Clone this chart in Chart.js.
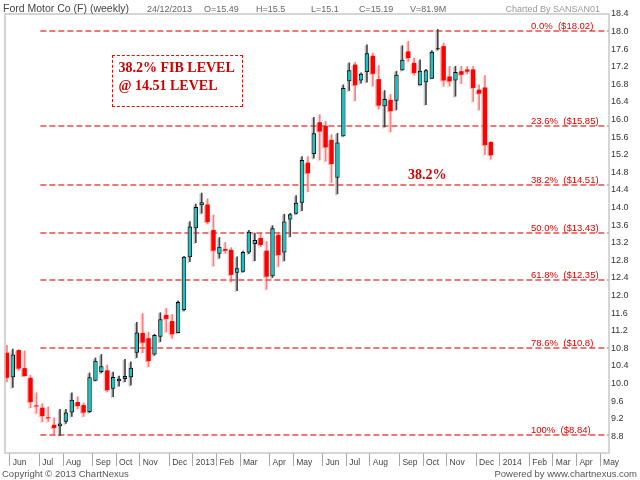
<!DOCTYPE html>
<html>
<head>
<meta charset="utf-8">
<title>Ford Motor Co (F) (weekly)</title>
<script src="https://cdn.jsdelivr.net/npm/chart.js@4.4.0/dist/chart.umd.min.js"></script>
<style>
    body { margin: 0; background: #fff; }
    #wrap { position: relative; width: 640px; height: 480px; overflow: hidden; font-family: "Liberation Sans", Arial, sans-serif; }
    #chart { position: absolute; left: 0; top: 0; }
    .txt { position: absolute; white-space: nowrap; line-height: 12px; }
    .title { left: 3px; top: 2px; font-size: 10.5px; color: #444; }
    .stat { top: 3px; font-size: 9px; color: #666; }
    .by { right: 40px; top: 3px; font-size: 9px; color: #999; }
    .foot { top: 468px; font-size: 9.5px; color: #555; }
    .note { position: absolute; font-family: "Liberation Serif", "Times New Roman", serif; font-weight: bold; font-size: 14px; line-height: 18px; color: #cc0000; white-space: nowrap; }
    .box { left: 112px; top: 55px; width: 131px; height: 52px; box-sizing: border-box; border: 1.5px dashed #dd1111; padding: 2.5px 0 0 5.5px; }
</style>
</head>
<body>
<div id="wrap">
    <canvas id="chart" width="640" height="480"></canvas>
    <div class="txt title">Ford Motor Co (F) (weekly)</div>
    <div class="txt stat" style="left:147px">24/12/2013</div>
    <div class="txt stat" style="left:204px">O=15.49</div>
    <div class="txt stat" style="left:256px">H=15.5</div>
    <div class="txt stat" style="left:311px">L=15.1</div>
    <div class="txt stat" style="left:359px">C=15.19</div>
    <div class="txt stat" style="left:410px">V=81.9M</div>
    <div class="txt by">Charted By SANSAN01</div>
    <div class="txt foot" style="left:2px">Copyright © 2013 ChartNexus</div>
    <div class="txt foot" style="right:3px">Powered by www.chartnexus.com</div>
    <div class="note box">38.2% FIB LEVEL<br>@ 14.51 LEVEL</div>
    <div class="note" style="left:408px; top:166px">38.2%</div>
</div>
<script>
// Weekly candles, Friday dated, first bar = week of 25/05/2012
const openP  = [10.70,10.14,10.76,10.35,10.13, 9.50, 9.45, 9.23, 9.06, 9.03,
                 9.13, 9.34, 9.58, 9.51, 9.35,10.06,10.26,10.30, 9.88,10.05,
                10.10,10.14,10.70,11.15,11.03,10.66,11.06,11.56,11.42,11.15,
                11.67,12.87,13.53,14.05,14.07,13.49,12.95,13.06,13.04,12.52,
                12.54,12.98,13.17,13.31,13.02,12.44,13.38,12.98,13.73,13.86,
                14.11,15.02,15.22,15.94,15.86,15.54,14.68,15.62,16.87,17.25,
                16.89,17.08,17.45,16.92,16.30,16.45,16.43,17.12,17.55,17.29,
                16.78,16.85,16.93,17.60,17.67,16.98,16.89,17.10,17.14,17.14,
                16.68,16.73,15.49];
const highP  = [10.87,10.78,10.77,10.74,10.19, 9.79, 9.54, 9.47, 9.22, 9.41,
                 9.41, 9.79, 9.70, 9.56,10.24,10.58,10.66,10.42,10.26,10.17,
                10.55,10.49,11.39,11.59,11.17,11.12,11.61,11.71,11.57,11.88,
                12.89,13.68,14.08,14.33,14.20,13.83,13.32,13.21,13.09,12.88,
                13.01,13.48,13.42,13.42,13.23,13.59,13.43,13.85,13.87,14.27,
                15.16,15.16,16.05,16.11,15.96,15.66,15.69,16.79,17.29,17.30,
                17.06,17.70,17.51,17.23,16.66,16.57,17.10,17.68,17.78,17.40,
                17.36,17.14,17.57,18.05,17.74,17.21,17.21,17.21,17.21,17.21,
                16.79,17.00,15.50];
const lowP   = [10.04, 9.91,10.30,10.17, 9.45, 9.32, 9.13, 9.13, 8.82, 8.82,
                 9.09, 9.25, 9.43, 9.25, 9.34,10.06,10.24, 9.81, 9.70, 9.94,
                10.04, 9.96,10.59,10.70,10.38,10.64,10.95,11.17,11.03,11.15,
                11.65,12.77,13.20,13.87,13.63,12.67,12.85,12.96,12.31,12.11,
                12.53,12.95,12.79,13.11,12.14,12.41,12.66,12.79,13.34,13.85,
                13.93,14.36,15.12,15.08,15.05,14.57,14.31,15.62,16.66,16.43,
                16.83,16.85,16.76,16.24,15.83,15.72,16.22,17.12,17.32,17.01,
                16.78,16.34,16.93,17.58,16.76,16.76,16.53,16.82,17.04,16.41,
                16.22,15.20,15.10];
const closeP = [10.13,10.66,10.34,10.17, 9.58, 9.48, 9.26, 9.21, 8.99, 9.09,
                 9.34, 9.63, 9.49, 9.34,10.14,10.52,10.39, 9.85,10.15,10.11,
                10.17,10.36,11.16,10.93,10.51,11.10,11.46,11.47,11.12,11.85,
                12.88,13.57,14.01,14.12,13.67,13.02,13.11,13.02,12.47,12.62,
                12.99,13.45,13.26,13.15,12.43,13.53,12.92,13.68,13.85,14.11,
                15.08,14.78,15.69,15.73,15.37,14.99,15.48,16.72,17.12,16.78,
                17.04,17.51,17.04,16.32,16.47,16.19,17.02,17.36,17.40,17.06,
                17.11,17.12,17.54,17.61,16.89,16.87,17.08,17.02,17.09,16.72,
                16.59,15.42,15.19];

// x axis: one slot per week, month tick at the first week of each month
const weekCount = 102;
const monthStart = [1, 6, 10, 15, 19, 23, 28, 32, 36, 40, 45, 49,
                    54, 58, 62, 67, 71, 75, 80, 84, 89, 93, 97, 101];
const monthTicks = ['Jun', 'Jul', 'Aug', 'Sep', 'Oct', 'Nov', 'Dec', '2013', 'Feb', 'Mar', 'Apr', 'May',
                    'Jun', 'Jul', 'Aug', 'Sep', 'Oct', 'Nov', 'Dec', '2014', 'Feb', 'Mar', 'Apr', 'May'];

// y axis
const yMin = 8.42;
const yMax = 18.4;
const yTicks = [8.8, 9.2, 9.6, 10.0, 10.4, 10.8, 11.2, 11.6, 12.0, 12.4, 12.8, 13.2, 13.6,
                14.0, 14.4, 14.8, 15.2, 15.6, 16.0, 16.4, 16.8, 17.2, 17.6, 18.0, 18.4];

// Fibonacci retracement levels
const fibPct    = ['0.0%', '23.6%', '38.2%', '50.0%', '61.8%', '78.6%', '100%'];
const fibLevels = [18.02, 15.85, 14.51, 13.43, 12.35, 10.8, 8.84];
const fibPrice  = ['18.02', '15.85', '14.51', '13.43', '12.35', '10.8', '8.84'];
const fibStartWeek = 6;

const UP = '#12c6c6';
const DOWN = '#ff0000';

function weekLabels() {
    const labels = [];
    const d = new Date(2012, 4, 25);
    for (let i = 0; i < weekCount; i++) {
        labels.push(d.getDate() + '/' + (d.getMonth() + 1) + '/' + d.getFullYear());
        d.setDate(d.getDate() + 7);
    }
    return labels;
}

function isUp(i) { return closeP[i] >= openP[i]; }

// candles split by direction so each side gets its own shadow tint
function bodies(up) {
    return openP.map((o, i) => isUp(i) === up ? [o, closeP[i]] : null);
}
function wicks(up) {
    return lowP.map((l, i) => isUp(i) === up ? [l, highP[i]] : null);
}

const shadowPlugin = {
    id: 'candleShadow',
    beforeDatasetDraw(chart, args) {
        const ds = chart.data.datasets[args.index];
        if (!ds.shadow) return;
        const ctx = chart.ctx;
        ctx.save();
        ctx.shadowColor = ds.shadow;
        ctx.shadowOffsetX = -1.5;
        ctx.shadowOffsetY = 1;
        ctx.shadowBlur = 0;
    },
    afterDatasetDraw(chart, args) {
        const ds = chart.data.datasets[args.index];
        if (ds.shadow) chart.ctx.restore();
    }
};

const fibPlugin = {
    id: 'fib',
    beforeDatasetsDraw(chart) {
        const ctx = chart.ctx;
        const x = chart.scales.x, y = chart.scales.y;
        const x0 = x.getPixelForValue(fibStartWeek) - 2;
        const x1 = chart.chartArea.right + 3;
        ctx.save();
        ctx.strokeStyle = 'rgba(222,30,30,0.8)';
        ctx.lineWidth = 1.5;
        ctx.setLineDash([6, 3]);
        fibLevels.forEach(function(level) {
            const py = Math.round(y.getPixelForValue(level));
            ctx.beginPath();
            ctx.moveTo(x0, py);
            ctx.lineTo(x1, py);
            ctx.stroke();
        });
        ctx.setLineDash([]);
        ctx.fillStyle = '#e00000';
        ctx.font = '9.5px "Liberation Sans", Arial, sans-serif';
        ctx.textAlign = 'left';
        ctx.textBaseline = 'alphabetic';
        fibLevels.forEach(function(level, i) {
            const py = Math.round(y.getPixelForValue(level));
            ctx.fillText(fibPct[i] + '  ($' + fibPrice[i] + ')', 531, py - 2);
        });
        ctx.restore();
    },
    afterDraw(chart) {
        const ctx = chart.ctx;
        const a = chart.chartArea;
        ctx.save();
        ctx.strokeStyle = '#c8c8c8';
        ctx.lineWidth = 1.5;
        ctx.strokeRect(a.left + 1, a.top, a.right - a.left + 2, a.bottom - a.top);
        ctx.restore();
    }
};

new Chart(document.getElementById('chart'), {
    type: 'bar',
    data: {
        labels: weekLabels(),
        datasets: [{
            label: 'Up body',
            data: bodies(true),
            backgroundColor: UP,
            borderColor: '#000',
            borderWidth: 1,
            borderSkipped: false,
            barPercentage: 0.74,
            categoryPercentage: 1,
            minBarLength: 1,
            grouped: false,
            shadow: 'rgba(110,110,110,0.45)',
            order: 0
        }, {
            label: 'Down body',
            data: bodies(false),
            backgroundColor: DOWN,
            borderWidth: 0,
            barPercentage: 0.74,
            categoryPercentage: 1,
            minBarLength: 1,
            grouped: false,
            shadow: 'rgba(255,110,110,0.5)',
            order: 1
        }, {
            label: 'Up wick',
            data: wicks(true),
            backgroundColor: '#444',
            barThickness: 1,
            grouped: false,
            shadow: 'rgba(110,110,110,0.4)',
            order: 2
        }, {
            label: 'Down wick',
            data: wicks(false),
            backgroundColor: 'rgba(255,70,70,0.7)',
            barThickness: 1,
            grouped: false,
            shadow: 'rgba(255,140,140,0.45)',
            order: 3
        }]
    },
    options: {
        responsive: false,
        animation: false,
        layout: { padding: { left: 4, top: 14, right: 0, bottom: 0 } },
        plugins: { legend: { display: false }, tooltip: { enabled: false } },
        scales: {
            x: {
                offset: true,
                grid: {
                    offset: true,
                    drawOnChartArea: false,
                    drawTicks: true,
                    tickLength: 13,
                    lineWidth: 1,
                    color: ctx => monthStart.includes(ctx.index) ? '#a8a8a8' : 'rgba(0,0,0,0)'
                },
                border: { display: false },
                ticks: {
                    autoSkip: false,
                    maxRotation: 0,
                    minRotation: 0,
                    align: 'start',
                    padding: -8,
                    color: '#444',
                    font: { family: '"Liberation Sans", Arial, sans-serif', size: 8.5 },
                    callback: function(val, i) {
                        const m = monthStart.indexOf(i);
                        return m >= 0 ? monthTicks[m] : '';
                    }
                },
                afterFit: s => { s.height = 27; }
            },
            y: {
                position: 'right',
                min: yMin,
                max: yMax,
                grid: { display: false, drawTicks: false },
                border: { display: false },
                ticks: {
                    padding: 5,
                    color: '#333',
                    font: { family: '"Liberation Sans", Arial, sans-serif', size: 9 },
                    callback: v => Number(v).toFixed(1)
                },
                afterBuildTicks: s => { s.ticks = yTicks.map(v => ({ value: v })); },
                afterFit: s => { s.width = 34; }
            }
        }
    },
    plugins: [fibPlugin, shadowPlugin]
});
</script>
</body>
</html>
